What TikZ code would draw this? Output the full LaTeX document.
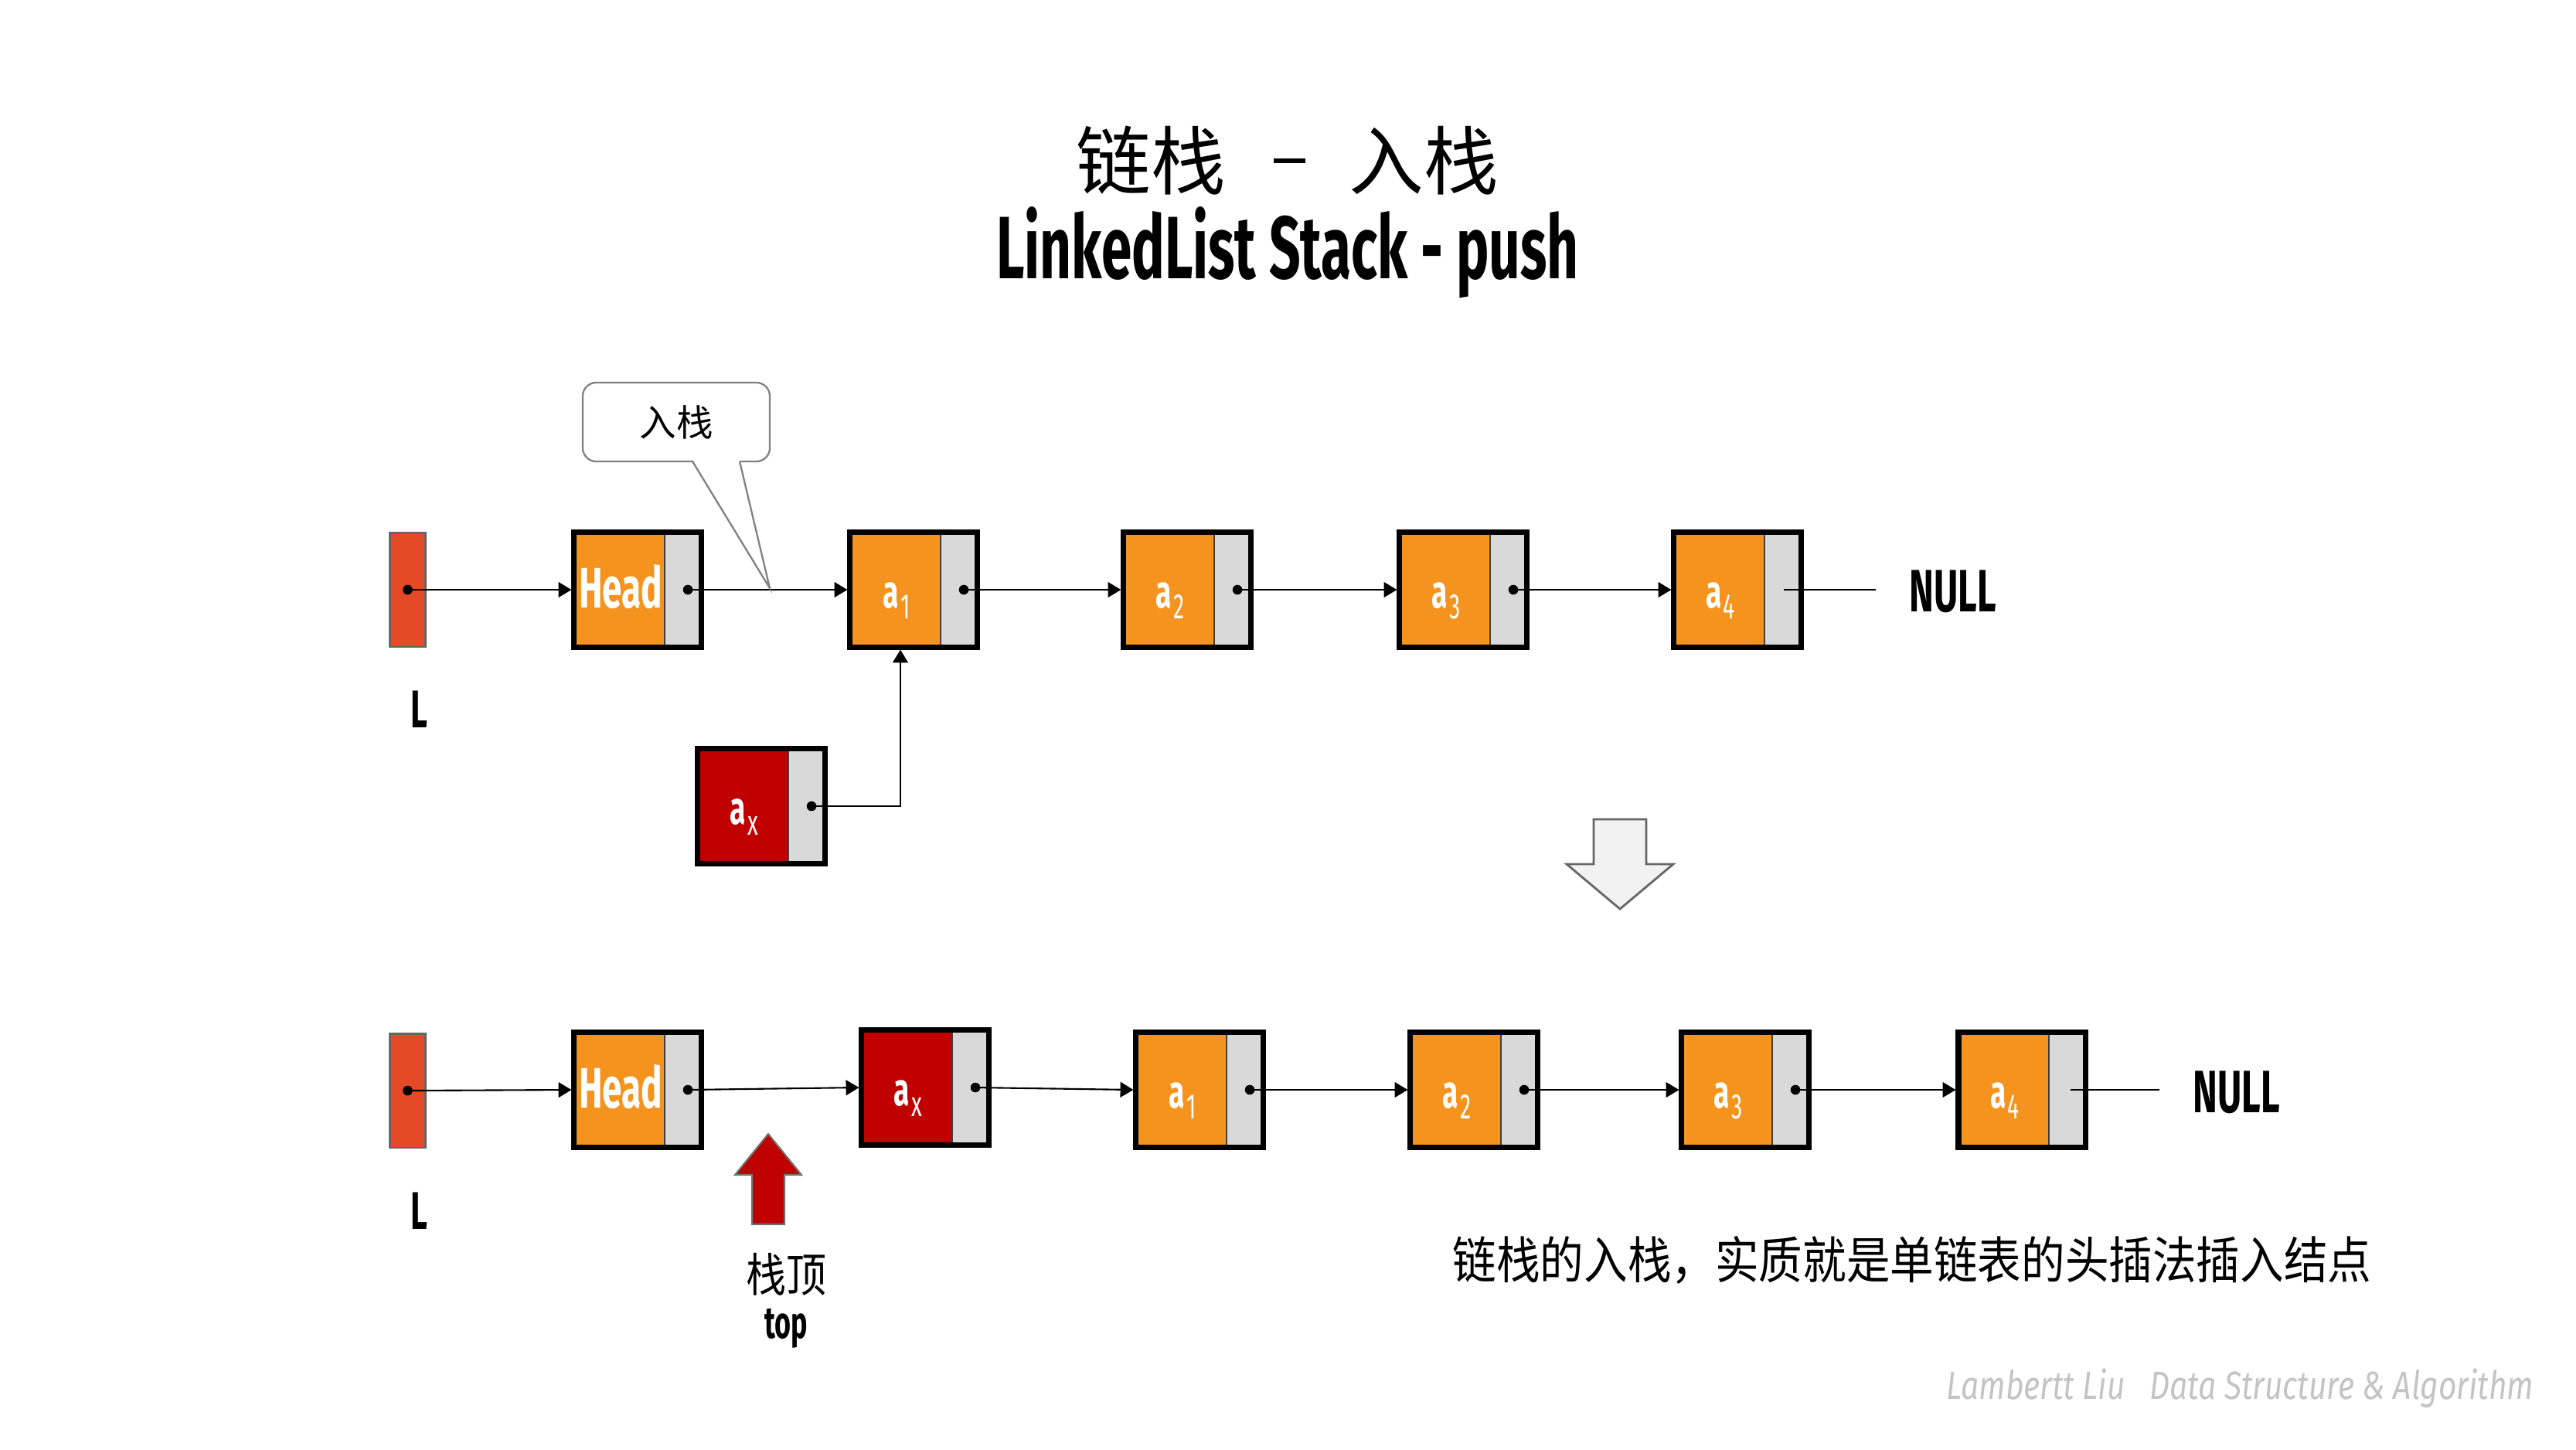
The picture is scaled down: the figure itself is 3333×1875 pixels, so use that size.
\documentclass[tikz,border=0pt]{standalone}
\usepackage{fontspec}
\usetikzlibrary{calc,arrows.meta}
\newfontfamily\cjk{Noto Sans CJK SC}
\newfontfamily\cjkc[FakeStretch=0.87]{Noto Sans CJK SC}
\newfontfamily\cond[FakeStretch=0.62]{Fira Sans}
\newfontfamily\footf[FakeStretch=0.8]{Fira Sans}
\definecolor{nodeorange}{HTML}{F5931F}
\definecolor{lred}{HTML}{E34A25}
\definecolor{darkred}{HTML}{C00000}
\definecolor{cellgray}{HTML}{D9D9D9}
\definecolor{divcol}{HTML}{404040}
\definecolor{footgray}{HTML}{C4C4C4}
\definecolor{calloutgray}{HTML}{808080}
\definecolor{hollowfill}{HTML}{F2F2F2}
\definecolor{hollowline}{HTML}{666666}
\newcommand\fsz[1]{\fontsize{#1}{#1}\selectfont}
\newcommand\sbx[1]{{\fsz{17}a}\hspace{0.6pt}\raisebox{-4pt}{\mdseries\fsz{13}#1}}
\newcommand\listnode[5]{%
  \node[nodebox, fill=#4] (#1) at (#2,#3) {};
  \node[celllabel, anchor=base] (#1-t) at ([xshift=-0.22cm, yshift=-0.235cm]#1.center) {#5};
  \coordinate (#1-p) at ([xshift=0.65cm]#1.center);
}
\tikzset{
  nodebox/.style={draw=black, line width=2pt, minimum width=1.64cm, minimum height=1.48cm, inner sep=0pt,
    path picture={
      \fill[cellgray] ([xshift=1.17cm]path picture bounding box.south west) rectangle (path picture bounding box.north east);
      \draw[divcol, line width=0.5pt] ([xshift=1.17cm]path picture bounding box.south west) -- ([xshift=1.17cm]path picture bounding box.north west);
    }},
  celllabel/.style={font=\cond\bfseries\fsz{21}, text=white, inner sep=0pt},
  lrect/.style={fill=lred, draw=gray!80!black, line width=0.6pt, minimum width=0.46cm, minimum height=1.47cm, inner sep=0pt},
  link/.style={line width=0.6pt, -{Triangle[length=4.8pt,width=5.6pt]}},
  plainlink/.style={line width=0.6pt},
  dotmark/.style={fill=black},
  condtxt/.style={font=\cond\bfseries\fsz{22}, inner sep=0pt},
  callbox/.style={draw=calloutgray, line width=0.65pt, rounded corners=5pt, fill=white, minimum width=2.42cm, minimum height=1.02cm, inner sep=0pt, font=\cjk\fsz{13.5}},
}
\begin{document}
\begin{tikzpicture}[x=0.01cm, y=-0.01cm]
\path[use as bounding box, fill=white] (0,0) rectangle (3333,1875);

% titles
\node[font=\cjk\fsz{27.5}, inner sep=0pt] (t1) at (1489,208) {链栈};
\node[fill=black, minimum width=0.41cm, minimum height=0.065cm, inner sep=0pt] (tdash) at (1668,208) {};
\node[font=\cjk\fsz{27.5}, inner sep=0pt] (t2) at (1842,208) {入栈};
\node[font=\cond\bfseries\fsz{32.6}, inner sep=0pt, anchor=base] (t3) at (1666,360) {LinkedList Stack - push};

% ---------- top row ----------
\node[lrect] (L1) at (527.5,763) {};
\coordinate (L1-p) at (L1.center);
\node[condtxt, font=\cond\bfseries\fsz{19.5}, anchor=base] (L1-t) at (542,941) {L};
\listnode{H1}{825}{763}{nodeorange}{Head}
\listnode{a1}{1182}{763}{nodeorange}{\sbx{1}}
\listnode{a2}{1536}{763}{nodeorange}{\sbx{2}}
\listnode{a3}{1893}{763}{nodeorange}{\sbx{3}}
\listnode{a4}{2248}{763}{nodeorange}{\sbx{4}}
\listnode{axT}{985}{1043}{darkred}{\sbx{x}}
\node[condtxt, anchor=base] (null1) at (2527,791) {NULL};
\coordinate (e1) at (2427,763);
\coordinate (a1-in) at ([xshift=-0.17cm]a1.south);

\draw[link] (L1-p) -- (H1.west);
\draw[link] (H1-p) -- (a1.west);
\draw[link] (a1-p) -- (a2.west);
\draw[link] (a2-p) -- (a3.west);
\draw[link] (a3-p) -- (a4.west);
\draw[plainlink] ([xshift=0.6cm]a4.center) -- (e1);
\draw[link, line width=0.8pt] (axT-p) -| (a1-in);
\foreach \n in {L1,H1,a1,a2,a3,axT} \fill[dotmark] (\n-p) circle[radius=6.3];

% callout
\node[callbox] (cb) at (875,546) {入栈};
\coordinate (tip) at (996,761);
\fill[white] (896,594) -- (957,594) -- (tip) -- cycle;
\draw[calloutgray, line width=0.65pt, line join=miter] (896,597) -- (tip) -- (957,597);

% hollow down arrow
\draw[draw=hollowline, fill=hollowfill, line width=0.8pt] (2062,1060) -- (2130,1060) -- (2130,1118) -- (2165,1118) -- (2096,1176) -- (2027,1118) -- (2062,1118) -- cycle;

% ---------- bottom row ----------
\node[lrect] (L2) at (527.5,1411) {};
\coordinate (L2-p) at (L2.center);
\node[condtxt, font=\cond\bfseries\fsz{19.5}, anchor=base] (L2-t) at (542,1590) {L};
\listnode{H2}{825}{1410}{nodeorange}{Head}
\listnode{ax2}{1197}{1407}{darkred}{\sbx{x}}
\listnode{b1}{1552}{1410}{nodeorange}{\sbx{1}}
\listnode{b2}{1907}{1410}{nodeorange}{\sbx{2}}
\listnode{b3}{2258}{1410}{nodeorange}{\sbx{3}}
\listnode{b4}{2616}{1410}{nodeorange}{\sbx{4}}
\node[condtxt, anchor=base] (null2) at (2894,1439) {NULL};
\coordinate (e2) at (2794,1410);

\draw[link] (L2-p) -- (H2.west);
\draw[link] (H2-p) -- (ax2.west);
\draw[link] (ax2-p) -- (b1.west);
\draw[link] (b1-p) -- (b2.west);
\draw[link] (b2-p) -- (b3.west);
\draw[link] (b3-p) -- (b4.west);
\draw[plainlink] ([xshift=0.63cm]b4.center) -- (e2);
\foreach \n in {L2,H2,ax2,b1,b2,b3} \fill[dotmark] (\n-p) circle[radius=6.3];

% top pointer arrow
\draw[fill=darkred, draw=gray!90!black, line width=0.6pt] (973,1584) -- (973,1520) -- (951,1520) -- (994,1467) -- (1037,1520) -- (1015,1520) -- (1015,1584) -- cycle;
\node[font=\cjkc\fsz{17}, inner sep=0pt] (zd) at (1017,1649) {栈顶};
\node[font=\cond\bfseries\fsz{16.5}, inner sep=0pt] (topl) at (1017,1719) {top};

% description
\node[font=\cjkc\fsz{18.5}, inner sep=0pt] (desc) at (2474,1630) {链栈的入栈，实质就是单链表的头插法插入结点};

% footer
\node[font=\footf\itshape\fsz{14.5}, text=footgray, inner sep=0pt, anchor=base] (f1) at (2634,1810) {Lambertt Liu};
\node[font=\footf\itshape\fsz{14.5}, text=footgray, inner sep=0pt, anchor=base] (f2) at (3030,1810) {Data Structure \& Algorithm};
\end{tikzpicture}
\end{document}
